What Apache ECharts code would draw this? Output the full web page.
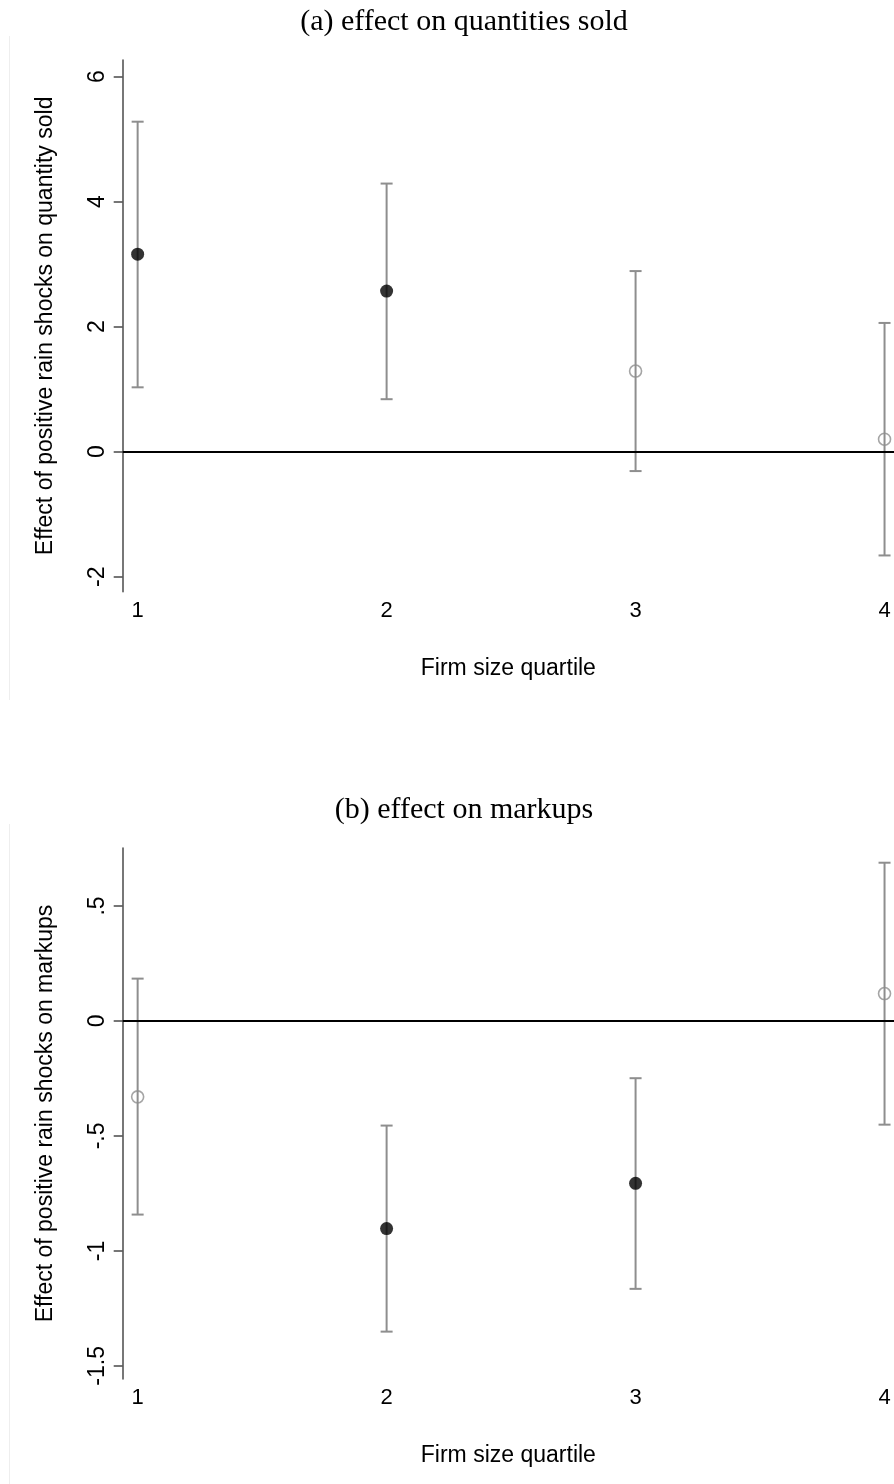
<!DOCTYPE html>
<html>
<head>
<meta charset="utf-8">
<script src="https://cdn.jsdelivr.net/npm/echarts@6/dist/echarts.min.js"></script>
<style>
html,body{margin:0;padding:0;background:#fff;}
#chart{width:894px;height:1484px;}
</style>
</head>
<body>
<div id="chart"></div>
<script>
// ---- data ----
const quartiles = [1, 2, 3, 4];
const xTickLabels = [1, 2, 3, 4];

const qtyTicks = [-2, 0, 2, 4, 6];
const qtyEst = [3.16, 2.57, 1.29, 0.20];
const qtyLo  = [1.03, 0.84, -0.31, -1.66];
const qtyHi  = [5.28, 4.29, 2.89, 2.06];
const qtySig = [1, 1, 0, 0];

const mkTicks = [-1.5, -1, -0.5, 0, 0.5];
const mkEst = [-0.330, -0.903, -0.706, 0.119];
const mkLo  = [-0.842, -1.351, -1.165, -0.451];
const mkHi  = [0.184, -0.455, -0.249, 0.688];
const mkSig = [0, 1, 1, 0];

const titles = ['(a) effect on quantities sold', '(b) effect on markups'];
const yNames = ['Effect of positive rain shocks on quantity sold', 'Effect of positive rain shocks on markups'];
const xName = 'Firm size quartile';

// ---- styling ----
const SANS = "'Liberation Sans', Arial, Helvetica, sans-serif";
const SERIF = "'Liberation Serif', 'Times New Roman', serif";
const BAR = '#8e8e8e';
const AXIS = '#4a4a4a';

const panels = [
  {ticks: qtyTicks, est: qtyEst, lo: qtyLo, hi: qtyHi, sig: qtySig, min: -2.24, max: 6.267, top: 60, height: 531.7},
  {ticks: mkTicks,  est: mkEst,  lo: mkLo,  hi: mkHi,  sig: mkSig,  min: -1.557, max: 0.752, top: 848, height: 531}
];

function fmt(v) {
  let s = String(Math.round(v * 1000) / 1000);
  return s.replace(/^(-?)0\./, '$1.');
}

const grid = [], xAxis = [], yAxis = [], series = [];
panels.forEach((p, i) => {
  grid.push({left: 122.7, right: 0, top: p.top, height: p.height, containLabel: false});
  xAxis.push({
    gridIndex: i, type: 'value', min: 0.94, max: 4.038,
    axisLine: {show: false}, axisTick: {show: false}, splitLine: {show: false},
    axisLabel: {customValues: xTickLabels, fontSize: 22, color: '#000', fontFamily: SANS, margin: 8},
    name: xName, nameLocation: 'middle', nameGap: 65,
    nameTextStyle: {fontSize: 23, color: '#000', fontFamily: SANS}
  });
  yAxis.push({
    gridIndex: i, type: 'value', min: p.min, max: p.max,
    axisLine: {show: true, lineStyle: {color: AXIS, width: 1.5}},
    axisTick: {show: true, customValues: p.ticks, length: 9, lineStyle: {color: AXIS, width: 1.5}},
    axisLabel: {customValues: p.ticks, rotate: 90, margin: 14, fontSize: 23, color: '#000', fontFamily: SANS, formatter: fmt},
    splitLine: {show: false},
    name: yNames[i], nameLocation: 'middle', nameRotate: 90, nameGap: 66,
    nameTextStyle: {fontSize: 23, color: '#000', fontFamily: SANS}
  });
  const barData = quartiles.map((q, k) => [q, p.lo[k], p.hi[k]]);
  series.push({
    type: 'custom', xAxisIndex: i, yAxisIndex: i, data: barData, z: 2,
    renderItem: function (params, api) {
      const x = api.value(0);
      const a = api.coord([x, api.value(1)]);
      const b = api.coord([x, api.value(2)]);
      const st = {stroke: BAR, lineWidth: 2};
      return {type: 'group', children: [
        {type: 'line', shape: {x1: a[0], y1: a[1], x2: b[0], y2: b[1]}, style: st},
        {type: 'line', shape: {x1: a[0] - 6, y1: a[1], x2: a[0] + 6, y2: a[1]}, style: st},
        {type: 'line', shape: {x1: b[0] - 6, y1: b[1], x2: b[0] + 6, y2: b[1]}, style: st}
      ]};
    },
    markLine: {
      silent: true, symbol: ['none', 'none'], label: {show: false},
      lineStyle: {color: '#000', width: 2, type: 'solid'},
      data: [{yAxis: 0}]
    }
  });
  series.push({
    type: 'scatter', xAxisIndex: i, yAxisIndex: i, z: 4,
    symbol: 'circle', symbolSize: 13,
    itemStyle: {color: '#000'},
    data: quartiles.map((q, k) => p.sig[k] ? [q, p.est[k]] : null).filter(d => d)
  });
  series.push({
    type: 'scatter', xAxisIndex: i, yAxisIndex: i, z: 4,
    symbol: 'circle', symbolSize: 12,
    itemStyle: {color: 'rgba(0,0,0,0)', borderColor: BAR, borderWidth: 1.6},
    data: quartiles.map((q, k) => p.sig[k] ? null : [q, p.est[k]]).filter(d => d)
  });
});

const chart = echarts.init(document.getElementById('chart'), null, {renderer: 'canvas'});
chart.setOption({
  backgroundColor: '#fff',
  animation: false,
  grid, xAxis, yAxis, series,
  graphic: [
    {type: 'text', x: 464, y: 22, style: {text: titles[0], textAlign: 'center', textVerticalAlign: 'middle', font: "30px " + SERIF, fill: '#000'}},
    {type: 'text', x: 464, y: 810, style: {text: titles[1], textAlign: 'center', textVerticalAlign: 'middle', font: "30px " + SERIF, fill: '#000'}},
    {type: 'line', shape: {x1: 9.5, y1: 36, x2: 9.5, y2: 700}, style: {stroke: '#eeeeee', lineWidth: 1}},
    {type: 'line', shape: {x1: 9.5, y1: 824, x2: 9.5, y2: 1484}, style: {stroke: '#eeeeee', lineWidth: 1}}
  ]
});
</script>
</body>
</html>
